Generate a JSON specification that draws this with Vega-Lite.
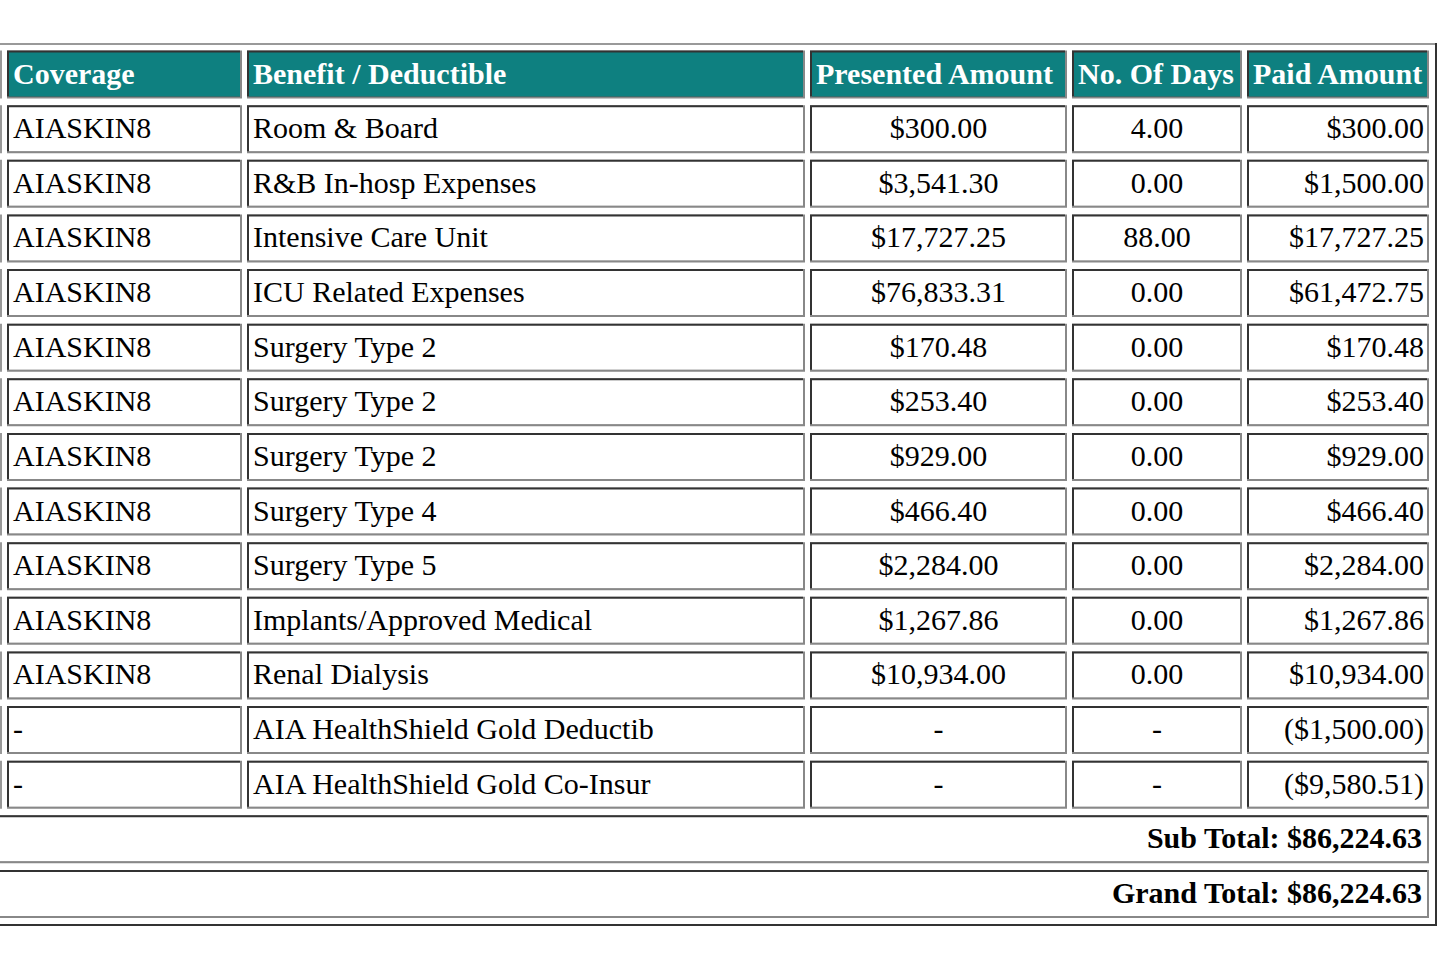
{
  "$schema": "https://vega.github.io/schema/vega-lite/v6.json",
  "width": 1442,
  "height": 970,
  "padding": 0,
  "autosize": {"type": "none"},
  "background": "white",
  "config": {
    "view": {"stroke": null},
    "axis": {"disable": true},
    "text": {"font": "Liberation Serif", "fontSize": 30, "baseline": "alphabetic", "dy": 9, "fill": "#000000"}
  },
  "datasets": {
    "cols": [
      {"key": "coverage", "label": "Coverage", "ci": 0, "cn": 1},
      {"key": "benefit", "label": "Benefit / Deductible", "ci": 1, "cn": 2},
      {"key": "presented", "label": "Presented Amount", "ci": 2, "cn": 3},
      {"key": "days", "label": "No. Of Days", "ci": 3, "cn": 4},
      {"key": "paid", "label": "Paid Amount", "ci": 4, "cn": 5}
    ],
    "rows": [
      {"row": "1", "coverage": "AIASKIN8", "benefit": "Room & Board", "presented": 300.00, "days": 4, "paid": 300.00},
      {"row": "2", "coverage": "AIASKIN8", "benefit": "R&B In-hosp Expenses", "presented": 3541.30, "days": 0, "paid": 1500.00},
      {"row": "3", "coverage": "AIASKIN8", "benefit": "Intensive Care Unit", "presented": 17727.25, "days": 88, "paid": 17727.25},
      {"row": "4", "coverage": "AIASKIN8", "benefit": "ICU Related Expenses", "presented": 76833.31, "days": 0, "paid": 61472.75},
      {"row": "5", "coverage": "AIASKIN8", "benefit": "Surgery Type 2", "presented": 170.48, "days": 0, "paid": 170.48},
      {"row": "6", "coverage": "AIASKIN8", "benefit": "Surgery Type 2", "presented": 253.40, "days": 0, "paid": 253.40},
      {"row": "7", "coverage": "AIASKIN8", "benefit": "Surgery Type 2", "presented": 929.00, "days": 0, "paid": 929.00},
      {"row": "8", "coverage": "AIASKIN8", "benefit": "Surgery Type 4", "presented": 466.40, "days": 0, "paid": 466.40},
      {"row": "9", "coverage": "AIASKIN8", "benefit": "Surgery Type 5", "presented": 2284.00, "days": 0, "paid": 2284.00},
      {"row": "10", "coverage": "AIASKIN8", "benefit": "Implants/Approved Medical", "presented": 1267.86, "days": 0, "paid": 1267.86},
      {"row": "11", "coverage": "AIASKIN8", "benefit": "Renal Dialysis", "presented": 10934.00, "days": 0, "paid": 10934.00},
      {"row": "12", "coverage": "-", "benefit": "AIA HealthShield Gold Deductib", "presented": null, "days": null, "paid": -1500.00},
      {"row": "13", "coverage": "-", "benefit": "AIA HealthShield Gold Co-Insur", "presented": null, "days": null, "paid": -9580.51}
    ],
    "totals": [
      {"kind": "sub", "text": "Sub Total: $86,224.63"},
      {"kind": "grand", "text": "Grand Total: $86,224.63"}
    ]
  },
  "layer": [
    {
      "data": {"name": "rows"},
      "transform": [
        {"fold": ["coverage", "benefit", "presented", "days", "paid"], "as": ["key", "value"]},
        {"lookup": "key", "from": {"data": {"name": "cols"}, "key": "key", "fields": ["ci", "cn"]}}
      ],
      "mark": {"type": "rect", "fill": "#888888", "height": 48, "x2Offset": -5},
      "encoding": {
        "x": {"field": "ci", "type": "quantitative", "axis": null,
              "scale": {"type": "linear", "domain": [-1, 0, 1, 2, 3, 4, 5], "range": [-100, 7, 247, 810, 1072, 1247, 1434], "zero": false, "nice": false}},
        "x2": {"field": "cn"},
        "y": {"field": "row", "type": "nominal", "axis": null,
              "scale": {"type": "band", "domain": ["hdr", "1", "2", "3", "4", "5", "6", "7", "8", "9", "10", "11", "12", "13", "sub", "grand"], "range": [47.2, 921.3], "paddingInner": 0, "paddingOuter": 0}}
      }
    },
    {
      "data": {"name": "rows"},
      "transform": [
        {"fold": ["coverage", "benefit", "presented", "days", "paid"], "as": ["key", "value"]},
        {"lookup": "key", "from": {"data": {"name": "cols"}, "key": "key", "fields": ["ci", "cn"]}}
      ],
      "mark": {"type": "rect", "fill": "#333333", "height": 46, "yOffset": -1, "x2Offset": -7},
      "encoding": {
        "x": {"field": "ci", "type": "quantitative"},
        "x2": {"field": "cn"},
        "y": {"field": "row", "type": "nominal"}
      }
    },
    {
      "data": {"name": "rows"},
      "transform": [
        {"fold": ["coverage", "benefit", "presented", "days", "paid"], "as": ["key", "value"]},
        {"lookup": "key", "from": {"data": {"name": "cols"}, "key": "key", "fields": ["ci", "cn"]}}
      ],
      "mark": {"type": "rect", "fill": "#ffffff", "height": 44, "xOffset": 2, "x2Offset": -7},
      "encoding": {
        "x": {"field": "ci", "type": "quantitative"},
        "x2": {"field": "cn"},
        "y": {"field": "row", "type": "nominal"}
      }
    },
    {
      "data": {"name": "cols"},
      "mark": {"type": "rect", "fill": "#888888", "height": 48, "x2Offset": -5},
      "encoding": {
        "x": {"field": "ci", "type": "quantitative"},
        "x2": {"field": "cn"},
        "y": {"datum": "hdr", "type": "nominal"}
      }
    },
    {
      "data": {"name": "cols"},
      "mark": {"type": "rect", "fill": "#333333", "height": 46, "yOffset": -1, "x2Offset": -7},
      "encoding": {
        "x": {"field": "ci", "type": "quantitative"},
        "x2": {"field": "cn"},
        "y": {"datum": "hdr", "type": "nominal"}
      }
    },
    {
      "data": {"name": "cols"},
      "mark": {"type": "rect", "fill": "#0e8080", "height": 44, "xOffset": 2, "x2Offset": -7},
      "encoding": {
        "x": {"field": "ci", "type": "quantitative"},
        "x2": {"field": "cn"},
        "y": {"datum": "hdr", "type": "nominal"}
      }
    },
    {
      "data": {"name": "totals"},
      "mark": {"type": "rect", "fill": "#888888", "height": 48, "x2Offset": -5},
      "encoding": {
        "x": {"datum": -1, "type": "quantitative"},
        "x2": {"datum": 5},
        "y": {"field": "kind", "type": "nominal"}
      }
    },
    {
      "data": {"name": "totals"},
      "mark": {"type": "rect", "fill": "#333333", "height": 46, "yOffset": -1, "x2Offset": -7},
      "encoding": {
        "x": {"datum": -1, "type": "quantitative"},
        "x2": {"datum": 5},
        "y": {"field": "kind", "type": "nominal"}
      }
    },
    {
      "data": {"name": "totals"},
      "mark": {"type": "rect", "fill": "#ffffff", "height": 44, "xOffset": 2, "x2Offset": -7},
      "encoding": {
        "x": {"datum": -1, "type": "quantitative"},
        "x2": {"datum": 5},
        "y": {"field": "kind", "type": "nominal"}
      }
    },
    {
      "data": {"name": "rows"},
      "mark": {"type": "rect", "fill": "#999999", "height": 48, "xOffset": -7, "x2Offset": -5},
      "encoding": {
        "x": {"datum": 0, "type": "quantitative"},
        "x2": {"datum": 0},
        "y": {"field": "row", "type": "nominal"}
      }
    },
    {
      "data": {"values": [{"part": "frame"}]},
      "mark": {"type": "rect", "fill": "#999999", "height": 48, "xOffset": -7, "x2Offset": -5},
      "encoding": {
        "x": {"datum": 0, "type": "quantitative"},
        "x2": {"datum": 0},
        "y": {"datum": "hdr", "type": "nominal"}
      }
    },
    {
      "data": {"values": [{"part": "frame"}]},
      "mark": {"type": "rule", "stroke": "#999999", "strokeWidth": 2, "yOffset": -30.5, "x2Offset": 3},
      "encoding": {
        "x": {"datum": -1, "type": "quantitative"},
        "x2": {"datum": 5},
        "y": {"datum": "hdr", "type": "nominal"}
      }
    },
    {
      "data": {"values": [{"part": "frame"}]},
      "mark": {"type": "rule", "stroke": "#333333", "strokeWidth": 2, "yOffset": 31, "x2Offset": 3},
      "encoding": {
        "x": {"datum": -1, "type": "quantitative"},
        "x2": {"datum": 5},
        "y": {"datum": "grand", "type": "nominal"}
      }
    },
    {
      "data": {"values": [{"part": "frame"}]},
      "mark": {"type": "rule", "stroke": "#333333", "strokeWidth": 2, "xOffset": 2, "yOffset": -31.5, "y2Offset": 32},
      "encoding": {
        "x": {"datum": 5, "type": "quantitative"},
        "y": {"datum": "hdr", "type": "nominal"},
        "y2": {"datum": "grand"}
      }
    },
    {
      "data": {"name": "cols"},
      "mark": {"type": "text", "align": "left", "dx": 6, "fontWeight": "bold", "fill": "#ffffff"},
      "encoding": {
        "x": {"field": "ci", "type": "quantitative"},
        "y": {"datum": "hdr", "type": "nominal"},
        "text": {"field": "label"}
      }
    },
    {
      "data": {"name": "rows"},
      "mark": {"type": "text", "align": "left", "dx": 6},
      "encoding": {
        "x": {"datum": 0, "type": "quantitative"},
        "y": {"field": "row", "type": "nominal"},
        "text": {"field": "coverage"}
      }
    },
    {
      "data": {"name": "rows"},
      "mark": {"type": "text", "align": "left", "dx": 6},
      "encoding": {
        "x": {"datum": 1, "type": "quantitative"},
        "y": {"field": "row", "type": "nominal"},
        "text": {"field": "benefit"}
      }
    },
    {
      "data": {"name": "rows"},
      "mark": {"type": "text", "align": "center", "dx": 128.5},
      "encoding": {
        "x": {"datum": 2, "type": "quantitative"},
        "y": {"field": "row", "type": "nominal"},
        "text": {"condition": {"test": "datum.presented === null", "value": "-"}, "field": "presented", "type": "quantitative", "format": "$,.2f"}
      }
    },
    {
      "data": {"name": "rows"},
      "mark": {"type": "text", "align": "center", "dx": 85},
      "encoding": {
        "x": {"datum": 3, "type": "quantitative"},
        "y": {"field": "row", "type": "nominal"},
        "text": {"condition": {"test": "datum.days === null", "value": "-"}, "field": "days", "type": "quantitative", "format": ".2f"}
      }
    },
    {
      "data": {"name": "rows"},
      "mark": {"type": "text", "align": "right", "dx": -10},
      "encoding": {
        "x": {"datum": 5, "type": "quantitative"},
        "y": {"field": "row", "type": "nominal"},
        "text": {"field": "paid", "type": "quantitative", "format": "($,.2f"}
      }
    },
    {
      "data": {"name": "totals"},
      "mark": {"type": "text", "align": "right", "dx": -12, "fontWeight": "bold"},
      "encoding": {
        "x": {"datum": 5, "type": "quantitative"},
        "y": {"field": "kind", "type": "nominal"},
        "text": {"field": "text"}
      }
    }
  ]
}
